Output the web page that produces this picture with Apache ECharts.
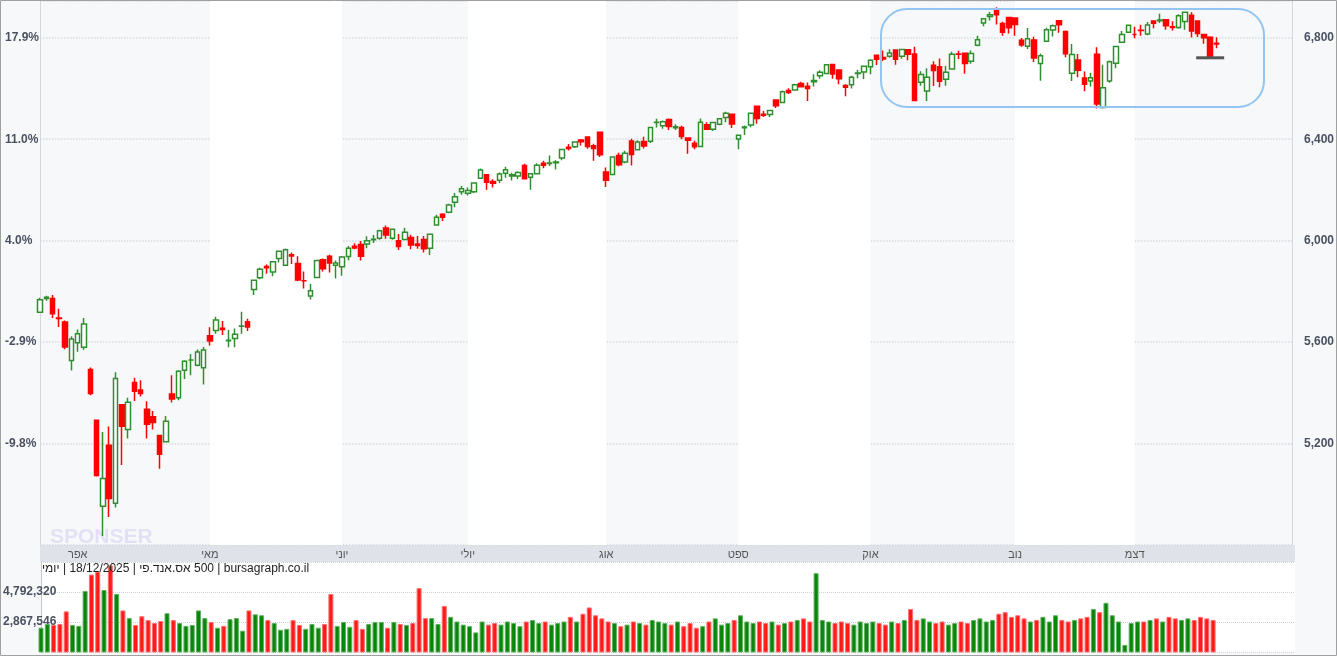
<!DOCTYPE html>
<html><head><meta charset="utf-8">
<script src="https://cdn.jsdelivr.net/npm/echarts@6/dist/echarts.min.js"></script>
<style>html,body{margin:0;padding:0;background:#f7f8fa}#wrap{position:relative;width:1337px;height:656px}#c{width:1337px;height:656px}
#ttl{position:absolute;left:42px;top:561px;font:12px "Liberation Sans",Arial,sans-serif;color:#222;direction:ltr;white-space:nowrap;z-index:5}</style>
</head><body><div id="wrap"><div id="c"></div><div id="ttl"></div></div>
<script>
// trading days (M-D), 2025
const dates = ["03-24","03-25","03-26","03-27","03-28","03-31",
"04-01","04-02","04-03","04-04","04-07","04-08","04-09","04-10","04-11","04-14","04-15","04-16","04-17","04-21","04-22","04-23","04-24","04-25","04-28","04-29","04-30",
"05-01","05-02","05-05","05-06","05-07","05-08","05-09","05-12","05-13","05-14","05-15","05-16","05-19","05-20","05-21","05-22","05-23","05-27","05-28","05-29","05-30",
"06-02","06-03","06-04","06-05","06-06","06-09","06-10","06-11","06-12","06-13","06-16","06-17","06-18","06-20","06-23","06-24","06-25","06-26","06-27","06-30",
"07-01","07-02","07-03","07-07","07-08","07-09","07-10","07-11","07-14","07-15","07-16","07-17","07-18","07-21","07-22","07-23","07-24","07-25","07-28","07-29","07-30","07-31",
"08-01","08-04","08-05","08-06","08-07","08-08","08-11","08-12","08-13","08-14","08-15","08-18","08-19","08-20","08-21","08-22","08-25","08-26","08-27","08-28","08-29",
"09-02","09-03","09-04","09-05","09-08","09-09","09-10","09-11","09-12","09-15","09-16","09-17","09-18","09-19","09-22","09-23","09-24","09-25","09-26","09-29","09-30",
"10-01","10-02","10-03","10-06","10-07","10-08","10-09","10-10","10-13","10-14","10-15","10-16","10-17","10-20","10-21","10-22","10-23","10-24","10-27","10-28","10-29","10-30","10-31",
"11-03","11-04","11-05","11-06","11-07","11-10","11-11","11-12","11-13","11-14","11-17","11-18","11-19","11-20","11-21","11-24","11-25","11-26","11-28",
"12-01","12-02","12-03","12-04","12-05","12-08","12-09","12-10","12-11","12-12","12-15","12-16","12-17","12-18"];
const padDays = 12;
// [open, close, low, high]
const ohlc = [
[5718,5767,5718,5775],[5772,5777,5763,5783],[5772,5712,5695,5786],[5695,5693,5660,5732],[5679,5581,5572,5685],[5527,5612,5488,5623],
[5597,5633,5562,5650],[5580,5671,5570,5695],[5492,5397,5390,5500],[5292,5074,5070,5292],[4953,5062,4835,5246],[5193,4983,4910,5267],[4965,5457,4948,5481],[5353,5268,5115,5353],[5255,5363,5220,5381],[5441,5406,5368,5459],[5411,5397,5386,5450],[5335,5276,5220,5367],[5306,5283,5255,5328],[5232,5158,5101,5232],[5207,5288,5207,5309],[5395,5376,5362,5469],[5381,5485,5371,5489],[5489,5525,5455,5528],[5529,5529,5469,5553],[5509,5561,5505,5571],[5499,5569,5433,5581],
[5625,5604,5587,5659],[5646,5687,5633,5700],[5655,5650,5628,5683],[5605,5607,5580,5649],[5614,5631,5580,5654],[5663,5664,5633,5720],[5680,5660,5644,5692],[5807,5844,5786,5845],[5854,5887,5848,5893],[5898,5893,5870,5906],[5876,5917,5860,5917],[5930,5958,5914,5958],[5903,5964,5903,5969],[5944,5940,5908,5953],[5910,5845,5840,5939],[5842,5842,5811,5878],[5782,5803,5768,5829],[5855,5922,5855,5924],[5925,5889,5878,5930],[5939,5912,5874,5944],[5903,5912,5851,5922],
[5897,5936,5862,5940],[5938,5970,5923,5979],[5978,5971,5966,5990],[5985,5939,5922,5999],[5987,6000,5970,6017],[6004,6006,5991,6022],[6010,6039,6004,6043],[6050,6022,6008,6060],[6010,6045,6004,6046],[6000,5977,5963,6026],[6005,6033,6003,6051],[6012,5983,5966,6023],[5987,5981,5968,6018],[6005,5968,5953,6018],[5970,6025,5943,6028],[6062,6092,6062,6102],[6104,6092,6078,6108],[6112,6141,6108,6146],[6151,6173,6132,6188],[6193,6205,6181,6216],
[6187,6198,6178,6210],[6193,6227,6188,6228],[6246,6279,6246,6285],[6260,6230,6201,6263],[6233,6226,6210,6242],[6238,6263,6227,6269],[6266,6280,6248,6291],[6255,6260,6237,6268],[6255,6269,6243,6274],[6296,6244,6244,6303],[6250,6264,6201,6267],[6264,6297,6263,6305],[6305,6297,6286,6315],[6304,6306,6294,6336],[6307,6310,6281,6317],[6326,6359,6317,6360],[6368,6363,6356,6381],[6370,6389,6365,6390],[6397,6390,6375,6401],[6409,6371,6362,6410],[6374,6363,6315,6382],[6427,6339,6330,6427],
[6271,6238,6212,6288],[6261,6330,6261,6333],[6336,6299,6293,6347],[6310,6345,6305,6355],[6393,6340,6296,6402],[6358,6389,6356,6396],[6391,6373,6363,6410],[6392,6446,6385,6447],[6466,6467,6446,6481],[6453,6469,6441,6474],[6478,6450,6436,6482],[6445,6449,6436,6459],[6446,6411,6400,6453],[6405,6396,6343,6407],[6384,6370,6360,6394],[6371,6467,6369,6482],[6457,6439,6438,6467],[6439,6466,6432,6468],[6459,6481,6455,6482],[6486,6502,6467,6508],[6498,6460,6444,6499],
[6401,6416,6360,6416],[6445,6448,6417,6454],[6456,6502,6447,6502],[6530,6482,6461,6532],[6498,6495,6488,6511],[6497,6513,6488,6513],[6555,6532,6523,6555],[6545,6587,6544,6592],[6592,6584,6578,6601],[6594,6615,6594,6619],[6620,6607,6604,6627],[6609,6600,6551,6624],[6627,6632,6608,6656],[6650,6664,6638,6672],[6659,6694,6657,6694],[6695,6657,6638,6697],[6673,6638,6617,6673],[6612,6605,6569,6617],[6615,6644,6600,6650],[6659,6661,6640,6674],[6665,6688,6637,6689],
[6686,6711,6656,6715],[6731,6715,6693,6731],[6722,6716,6708,6750],[6727,6740,6721,6755],[6752,6715,6694,6752],[6727,6754,6717,6754],[6753,6735,6711,6755],[6736,6553,6550,6765],[6625,6655,6611,6668],[6590,6644,6551,6680],[6692,6671,6610,6707],[6686,6629,6605,6718],[6636,6664,6611,6690],[6677,6735,6677,6745],[6736,6735,6716,6749],[6739,6699,6658,6741],[6707,6738,6698,6750],[6771,6792,6767,6808],[6858,6875,6845,6878],[6884,6891,6868,6902],[6910,6891,6852,6920],[6856,6822,6808,6863],[6880,6840,6817,6882],
[6878,6852,6808,6879],[6790,6772,6765,6799],[6767,6796,6756,6839],[6791,6720,6704,6804],[6699,6729,6631,6738],[6786,6832,6786,6840],[6831,6847,6805,6852],[6867,6851,6820,6870],[6825,6737,6723,6829],[6660,6734,6630,6775],[6712,6672,6644,6736],[6641,6617,6589,6667],[6630,6642,6608,6662],[6735,6539,6521,6763],[6525,6603,6521,6694],[6630,6705,6623,6710],[6700,6766,6680,6766],[6782,6813,6782,6827],[6822,6849,6822,6849],
[6813,6813,6798,6843],[6830,6829,6808,6851],[6815,6850,6810,6862],[6866,6857,6838,6867],[6867,6870,6858,6895],[6871,6847,6832,6873],[6843,6841,6829,6865],[6841,6887,6836,6893],[6864,6901,6832,6901],[6889,6827,6801,6901],[6866,6817,6803,6866],[6813,6800,6776,6815],[6802,6721,6720,6806],[6778,6775,6759,6802]];
// volume (millions)
const volume = [2.50,2.74,2.68,2.74,3.55,2.68,2.62,4.86,5.91,6.10,4.92,6.50,4.67,3.61,3.12,2.68,3.24,2.99,2.80,2.93,3.43,2.99,2.80,2.62,2.68,3.61,3.12,2.87,2.50,2.62,3.05,3.12,2.31,3.61,3.36,3.30,2.99,2.80,2.37,2.43,2.99,2.68,2.43,2.74,2.50,2.74,4.67,2.62,2.87,2.56,2.99,2.43,2.74,2.87,2.87,2.50,2.87,2.74,2.68,2.80,5.04,3.12,3.12,2.74,
3.9,3.2,2.9,2.7,2.6,2.2,2.9,2.7,2.8,2.7,2.9,2.8,2.6,2.9,3.0,2.8,2.9,2.7,2.8,2.9,3.2,2.9,3.4,3.8,3.3,3.1,2.9,2.8,2.6,2.7,2.9,2.8,2.7,3.0,2.9,2.8,2.7,2.9,2.6,2.8,2.5,2.6,2.9,3.1,2.7,2.8,3.0,3.3,2.9,2.8,2.9,2.8,2.9,2.7,2.8,2.9,3.0,3.1,2.9,6.0,3.0,2.9,2.8,2.9,2.8,2.7,2.9,2.8,2.9,2.8,2.7,2.9,2.8,3.0,3.7,3.0,3.1,2.9,2.8,2.9,2.7,2.8,2.9,2.8,3.0,3.1,2.9,3.0,3.4,3.5,3.2,3.3,3.1,2.9,3.0,3.2,2.9,3.3,3.0,2.9,3.0,3.1,3.2,3.7,3.5,4.1,3.3,2.9,1.4,2.8,2.9,2.9,3.0,3.1,2.9,3.2,3.1,3.0,3.1,3.0,3.2,3.1,3.0];
const monthNames = {"03":"","04":"אפר","05":"מאי","06":"יוני","07":"יולי","08":"אוג","09":"ספט","10":"אוק","11":"נוב","12":"דצמ"};
const priceTicks = [5200,5600,6000,6400,6800];
const pctLabels = ["-9.8%","-2.9%","4.0%","11.0%","17.9%"];
const volTicks = [2867546,4792320];
const titleParts = ["יומי","18/12/2025","אס.אנד.פי","500","bursagraph.co.il"];

document.getElementById('ttl').innerHTML =
  '<bdi>'+titleParts[0]+'</bdi> | '+titleParts[1]+' | <bdi>'+titleParts[2]+'</bdi> '+titleParts[3]+' | '+titleParts[4];

const cats = dates.concat(Array.from({length:padDays},(_,i)=>"p"+i));
const candleData = ohlc.map(r=>[r[0],r[1],r[2],r[3]]);
const UP='#2f8f2f', DN='#ff0000';
const volData = volume.map((v,i)=>({value:v*1e6,itemStyle:{color: ohlc[i][1]>=ohlc[i][0]?'#0a840a':'#ff1a1a', borderColor: ohlc[i][1]>=ohlc[i][0]?'#5fb35f':'#ff7070', borderWidth:1}}));
const monthStart = new Set();
dates.forEach((d,i)=>{ if(i>0 && d.slice(0,2)!==dates[i-1].slice(0,2)) monthStart.add(i); });
const starts=[...monthStart];
const whiteAreas=[];
starts.forEach((s,k)=>{ const m=dates[s].slice(0,2); if(["05","07","09","11"].includes(m)){ const e=starts[k+1]!==undefined?starts[k+1]:cats.length-1; whiteAreas.push([{xAxis:s-0.5},{xAxis:e-0.5}]); }});

const chart = echarts.init(document.getElementById('c'));
const VINT = volTicks[1]-volTicks[0];
const VMIN = volTicks[0]-VINT;
chart.setOption({
  animation:false,
  backgroundColor:'#f7f8fa',
  grid:[{left:40,right:42,top:1,bottom:111,show:true,backgroundColor:'#f7f8fa',borderWidth:0},
        {left:40,right:42,top:562,bottom:4,show:true,backgroundColor:'#ffffff',borderWidth:0}],
  xAxis:[{type:'category',data:cats,gridIndex:0,boundaryGap:false,z:20,axisLine:{show:false},axisTick:{show:false},splitLine:{show:false},
          axisLabel:{interval:(i)=>monthStart.has(i),formatter:(v)=>v.startsWith('p')?'':(monthNames[v.slice(0,2)]||''),color:'#555',fontSize:11,margin:4,fontFamily:'Liberation Sans, Arial'}},
         {type:'category',data:cats,gridIndex:1,boundaryGap:false,axisLine:{show:false},axisTick:{show:false},axisLabel:{show:false}}],
  yAxis:[{type:'value',gridIndex:0,position:'right',min:4800,max:6945,interval:400,
          axisLine:{show:true,lineStyle:{color:'#d3d7de'}},axisTick:{show:false},
          splitLine:{lineStyle:{color:'#d8dce2',type:'dotted',width:1.5}},
          axisLabel:{color:'#4a5160',fontSize:12,fontWeight:'bold',margin:12,fontFamily:'Liberation Sans, Arial',showMaxLabel:false,
            formatter:(v)=>priceTicks.includes(v)?v.toLocaleString('en-US'):''}},
         {type:'value',gridIndex:0,position:'left',min:4800,max:6945,interval:400,
          axisLine:{show:true,lineStyle:{color:'#d3d7de'}},axisTick:{show:false},splitLine:{show:false},
          axisLabel:{color:'#4a5160',fontSize:12,fontWeight:'bold',align:'left',margin:35,fontFamily:'Liberation Sans, Arial',showMaxLabel:false,
            formatter:(v)=>{const k=priceTicks.indexOf(v);return k>=0?pctLabels[k]:'';}}},
         {type:'value',gridIndex:1,position:'left',min:VMIN,max:VMIN+3*VINT,interval:VINT,
          axisLine:{show:true,lineStyle:{color:'#c8c8c8'}},axisTick:{show:false},
          splitLine:{lineStyle:{color:'#cfd3d9',type:'dotted',width:1}},
          axisLabel:{color:'#4a5160',fontSize:12,fontWeight:'bold',align:'left',margin:38,fontFamily:'Liberation Sans, Arial',showMinLabel:false,showMaxLabel:false,
            formatter:(v)=>volTicks.some(t=>Math.abs(t-v)<2)?Math.round(v).toLocaleString('en-US'):''}}],
  series:[
    {type:'candlestick',xAxisIndex:0,yAxisIndex:0,data:candleData,barWidth:5,
     itemStyle:{color:'#ffffff',color0:DN,borderColor:UP,borderColor0:DN,borderWidth:1.5},
     markArea:{silent:true,itemStyle:{color:'#ffffff'},data:whiteAreas},z:3},
    {type:'bar',xAxisIndex:1,yAxisIndex:2,data:volData,barWidth:5}
  ],
  graphic:[
    {id:'band',type:'rect',shape:{x:40,y:545,width:1255,height:17},style:{fill:'#dfe3e9'},z:-1,silent:true},
    {id:'wm',type:'text',left:50,top:527,style:{text:'SPONSER',fill:'rgba(190,180,235,0.35)',font:'bold 21px Liberation Sans, Arial'},z:1},
    {id:'box',type:'rect',shape:{x:881,y:9,width:383,height:98,r:26},style:{fill:'none',stroke:'#93c5f3',lineWidth:2},z:10},
    {id:'frame',type:'rect',shape:{x:0.5,y:0.5,width:1336,height:655},style:{fill:'none',stroke:'#a0a0a0',lineWidth:1},z:10}
  ]
});
const lastIdx = ohlc.length-2;
const p = chart.convertToPixel({gridIndex:0},[lastIdx, ohlc[lastIdx][1]]);
chart.setOption({graphic:[{id:'last',type:'line',shape:{x1:p[0]-14,y1:p[1],x2:p[0]+14,y2:p[1]},style:{stroke:'#555',lineWidth:3},z:11}]});
</script></body></html>
